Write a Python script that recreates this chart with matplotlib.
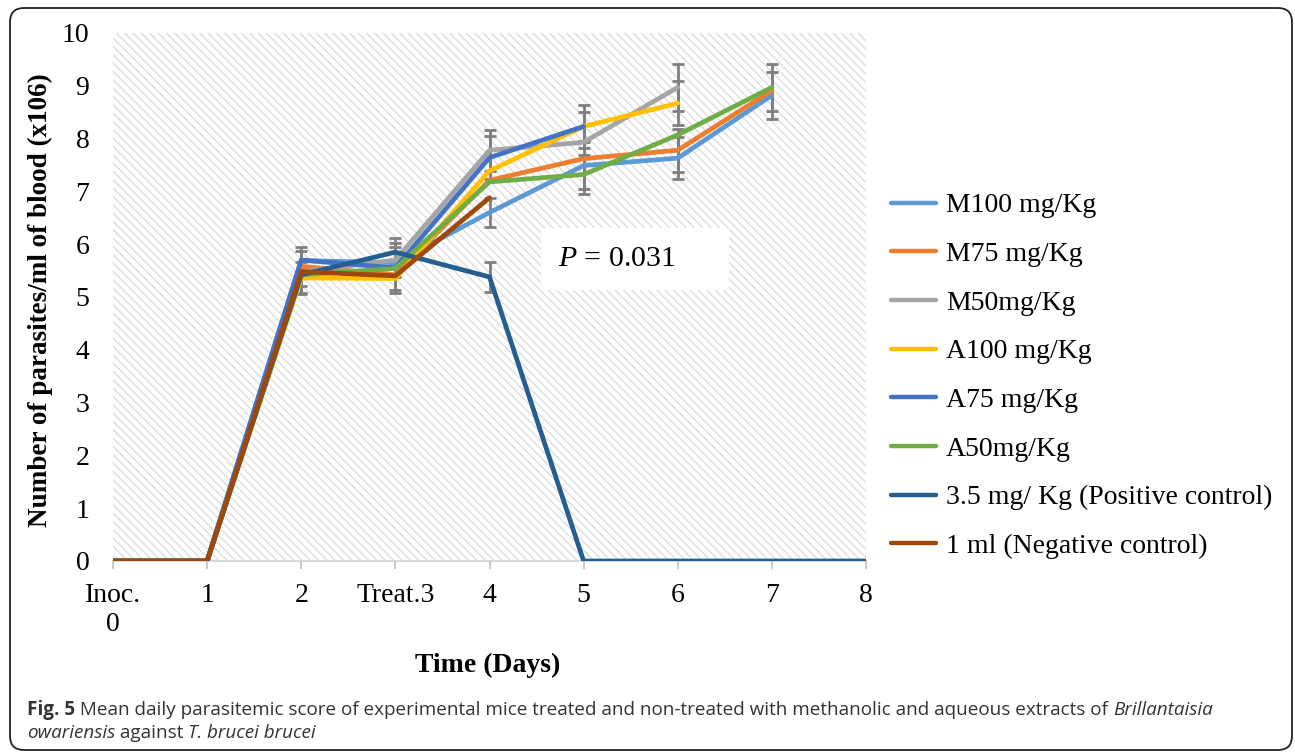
import numpy as np
import matplotlib
matplotlib.use('Agg')
import matplotlib.pyplot as plt
from matplotlib.patches import Rectangle, FancyBboxPatch
from matplotlib.transforms import IdentityTransform

nan = np.nan

# ---- data ----
days = [0, 1, 2, 3, 4, 5, 6, 7, 8]
day_labels = ['Inoc.\n0', '1', '2', 'Treat.3', '4', '5', '6', '7', '8']
y_ticks = [0, 1, 2, 3, 4, 5, 6, 7, 8, 9, 10]

series_names = ['M100 mg/Kg', 'M75 mg/Kg', 'M50mg/Kg', 'A100 mg/Kg', 'A75 mg/Kg',
                'A50mg/Kg', '3.5 mg/ Kg (Positive control)', '1 ml (Negative control)']

m100 = [0, 0, 5.69, 5.65, 6.60, 7.49, 7.63, 8.82, nan]
m75 = [0, 0, 5.58, 5.42, 7.21, 7.62, 7.78, 8.91, nan]
m50 = [0, 0, 5.48, 5.70, 7.78, 7.93, 8.97, nan, nan]
a100 = [0, 0, 5.36, 5.35, 7.39, 8.23, 8.67, nan, nan]
a75 = [0, 0, 5.70, 5.55, 7.64, 8.23, nan, nan, nan]
a50 = [0, 0, 5.42, 5.54, 7.18, 7.32, 8.07, 8.97, nan]
pos_ctrl = [0, 0, 5.42, 5.85, 5.38, 0, 0, 0, 0]
neg_ctrl = [0, 0, 5.48, 5.40, 6.88, nan, nan, nan, nan]

m100_err = [nan, nan, nan, nan, 0.27, 0.44, 0.40, 0.44, nan]
m75_err = [nan, nan, 0.37, nan, nan, nan, 0.41, nan, nan]
m50_err = [nan, nan, 0.40, 0.32, 0.39, nan, 0.45, nan, nan]
a100_err = [nan, nan, 0.30, 0.27, nan, 0.40, 0.42, nan, nan]
a75_err = [nan, nan, nan, nan, 0.41, 0.28, nan, nan, nan]
a50_err = [nan, nan, nan, 0.41, nan, 0.36, nan, 0.45, nan]
pos_err = [nan, nan, nan, 0.27, 0.28, nan, nan, nan, nan]
neg_err = [nan, nan, nan, nan, nan, nan, nan, nan, nan]

series_values = [m100, m75, m50, a100, a75, a50, pos_ctrl, neg_ctrl]
series_errors = [m100_err, m75_err, m50_err, a100_err, a75_err, a50_err, pos_err, neg_err]
colors = ['#5B9BD5', '#ED7D31', '#A5A5A5', '#FFC000', '#4472C4', '#70AD47', '#255E91', '#9E480E']

p_text = r'$\mathit{P}$ = 0.031'
caption_parts = [('Fig. 5', 'bold', 'normal'),
                 (' Mean daily parasitemic score of experimental mice treated and non-treated with methanolic and aqueous extracts of ', 'normal', 'normal'),
                 ('Brillantaisia', 'normal', 'italic')]
caption_parts2 = [('owariensis', 'normal', 'italic'),
                  (' against ', 'normal', 'normal'),
                  ('T. brucei brucei', 'normal', 'italic')]

# ---- style ----
plt.rcParams['font.family'] = ['Liberation Serif', 'DejaVu Serif']
plt.rcParams['mathtext.fontset'] = 'custom'
plt.rcParams['mathtext.rm'] = 'Liberation Serif'
plt.rcParams['mathtext.it'] = 'Liberation Serif:italic'
plt.rcParams['hatch.linewidth'] = 1.0

W, H = 1295, 753
fig = plt.figure(figsize=(W / 100, H / 100), dpi=100)
ax = fig.add_axes([113 / W, 1 - 561 / H, (866 - 113) / W, (561 - 33) / H])
ax.set_xlim(0, 8)
ax.set_ylim(0, 10)
ax.set_facecolor('white')

bg = Rectangle((0, 0), 1, 1, transform=ax.transAxes, facecolor='white',
               edgecolor='#dddddd', hatch='\\' * 4, lw=0, zorder=0)
ax.add_patch(bg)

for vals, errs, col, name in zip(series_values, series_errors, colors, series_names):
    x = np.array(days, dtype=float)
    y = np.array(vals, dtype=float)
    e = np.array(errs, dtype=float)
    m = ~np.isnan(e)
    if m.any():
        ax.errorbar(x[m], y[m], yerr=e[m], fmt='none', ecolor='#7f7f7f',
                    elinewidth=2, capsize=4, capthick=2, zorder=2)
    ax.plot(x, y, color=col, lw=3.4, label=name, zorder=3, solid_capstyle='round')

for s in ['left', 'right', 'top']:
    ax.spines[s].set_visible(False)
ax.spines['bottom'].set_color('#d9d9d9')
ax.spines['bottom'].set_linewidth(1.5)
ax.spines['bottom'].set_zorder(1)

ax.set_xticks(days)
ax.set_xticklabels(day_labels, fontsize=20, linespacing=1.2)
ax.set_yticks(y_ticks)
ax.set_yticklabels([str(v) for v in y_ticks], fontsize=20)
ax.tick_params(axis='x', length=6, width=1.2, color='#bfbfbf', pad=10)
ax.tick_params(axis='y', length=0, pad=17)

# P box
ax.add_patch(Rectangle((4.55, 5.13), 1.99, 1.18, facecolor='white', edgecolor='none', zorder=1.5))
ax.text(4.73, 5.72, p_text, fontsize=21.5, va='center', ha='left', zorder=4)

# labels
fig.text(40 / W, 1 - 300 / H, 'Number of parasites/ml of blood (x106)', rotation=90,
         fontsize=19.5, fontweight='bold', ha='center', va='center')
fig.text(488 / W, 1 - 665 / H, 'Time (Days)', fontsize=20, fontweight='bold',
         ha='center', va='center')

leg = fig.legend(loc='upper left', bbox_to_anchor=(891 / W, 1 - 193 / H), frameon=False,
                 fontsize=20, handlelength=1.62, handletextpad=0.36, labelspacing=0.835,
                 borderaxespad=0, borderpad=0)
for line in leg.get_lines():
    line.set_linewidth(3.2)

# caption
def chain(parts, x, y):
    texts = []
    fig.canvas.draw()
    r = fig.canvas.get_renderer()
    cur_x = x
    for txt, weight, style in parts:
        t = fig.text(cur_x / W, 1 - y / H, txt, ha='left', va='baseline', fontsize=13.6,
                     fontweight=weight, fontstyle=style, color='#333333',
                     family=['Open Sans', 'DejaVu Sans'])
        bb = t.get_window_extent(renderer=r)
        cur_x += bb.width
        texts.append(t)
    return texts

chain(caption_parts, 27, 715)
chain(caption_parts2, 27, 738)

# rounded figure border
border = FancyBboxPatch((10, H - 750), 1282, 742, boxstyle='round,pad=0,rounding_size=14',
                        transform=IdentityTransform(), facecolor='none', edgecolor='#222222',
                        lw=1.3)
fig.patches.append(border)

fig.savefig('out.png', dpi=100)
